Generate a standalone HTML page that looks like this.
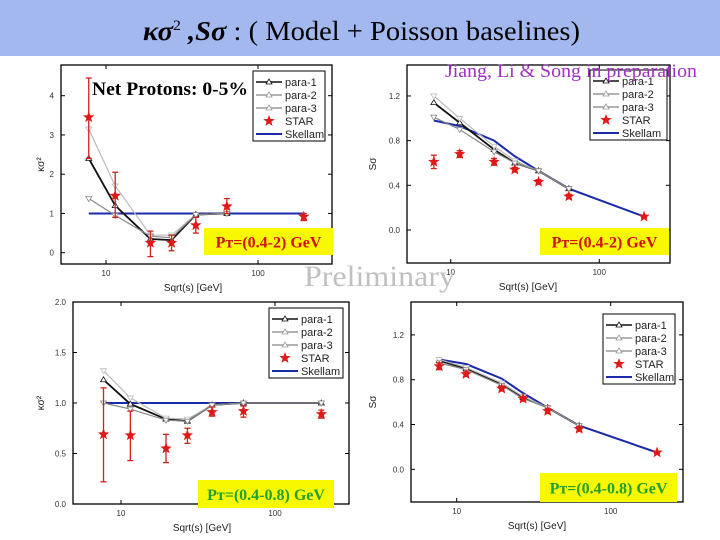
<!DOCTYPE html>
<html><head><meta charset="utf-8"><style>
body{margin:0;width:720px;height:540px;overflow:hidden;background:#fff;}
svg{display:block;}
</style></head><body>
<svg id="s" width="720" height="540" xmlns="http://www.w3.org/2000/svg" font-family="Liberation Sans, sans-serif">
<rect x="0" y="0" width="720" height="56" fill="#a4b8f0"/>
<text x="143" y="40" font-family="Liberation Serif, serif" font-size="27" fill="#000" textLength="437" lengthAdjust="spacingAndGlyphs"><tspan font-weight="bold" font-style="italic">κσ</tspan><tspan font-size="15" dy="-10">2</tspan><tspan dy="10" font-weight="bold" font-style="italic"> ,Sσ</tspan> :  ( Model + Poisson baselines)</text>
<g id="charts"></g>
<text x="304" y="286" font-family="Liberation Serif, serif" font-size="30" fill="#c0c0c0" textLength="151" lengthAdjust="spacingAndGlyphs">Preliminary</text>
<text x="445" y="77" font-family="Liberation Serif, serif" font-size="19" fill="#a030c0" textLength="252" lengthAdjust="spacingAndGlyphs">Jiang, Li &amp; Song in preparation</text>
<text x="92" y="95" font-family="Liberation Serif, serif" font-size="19" font-weight="bold" textLength="156" lengthAdjust="spacingAndGlyphs">Net Protons: 0-5%</text>
</svg>
<script>
const energies = [7.7, 11.5, 19.6, 27, 39, 62.4, 200];
// chart 1: kappa sigma^2, pT 0.4-2
const c1Star = [3.45, 1.45, 0.25, 0.25, 0.7, 1.18, 0.92];
const c1ErrHi = [4.45, 2.05, 0.55, 0.45, 0.9, 1.38, 1.0];
const c1ErrLo = [2.4, 0.9, -0.1, 0.05, 0.5, 1.0, 0.82];
const c1Para1 = [2.4, 1.2, 0.35, 0.32, 0.97, 1.0];
const c1Para2 = [3.15, 1.7, 0.45, 0.45, 0.97, 1.0];
const c1Para3 = [1.38, 0.95, 0.42, 0.38, 0.97, 1.0];
const c1Skellam = [1, 1, 1, 1, 1, 1, 1];
const c1YTicks = [0, 1, 2, 3, 4];
// chart 2: S sigma, pT 0.4-2
const c2Star = [0.61, 0.68, 0.61, 0.54, 0.43, 0.30, 0.12];
const c2ErrHi = [0.67, 0.71, 0.64, 0.56, 0.45, 0.32, 0.13];
const c2ErrLo = [0.55, 0.65, 0.58, 0.52, 0.41, 0.28, 0.11];
const c2Para1 = [1.14, 0.96, 0.72, 0.6, 0.53, 0.37];
const c2Para2 = [1.2, 1.0, 0.75, 0.62, 0.53, 0.37];
const c2Para3 = [1.01, 0.9, 0.7, 0.6, 0.53, 0.37];
const c2Skellam = [0.98, 0.93, 0.8, 0.66, 0.53, 0.37, 0.12];
const c2YTicks = [0.0, 0.4, 0.8, 1.2];
// chart 3: kappa sigma^2, pT 0.4-0.8
const c3Star = [0.69, 0.68, 0.55, 0.68, 0.91, 0.92, 0.89];
const c3ErrHi = [1.15, 0.92, 0.69, 0.75, 0.96, 0.97, 0.93];
const c3ErrLo = [0.22, 0.43, 0.41, 0.6, 0.87, 0.86, 0.85];
const c3Para1 = [1.23, 0.99, 0.84, 0.82, 0.98, 1.0, 1.0];
const c3Para2 = [1.32, 1.05, 0.85, 0.84, 0.98, 1.0, 1.0];
const c3Para3 = [1.0, 0.94, 0.83, 0.82, 0.98, 1.0, 1.0];
const c3Skellam = [1, 1, 1, 1, 1, 1, 1];
const c3YTicks = [0.0, 0.5, 1.0, 1.5, 2.0];
// chart 4: S sigma, pT 0.4-0.8
const c4Star = [0.92, 0.85, 0.72, 0.63, 0.52, 0.36, 0.15];
const c4ErrHi = [0.95, 0.87, 0.74, 0.65, 0.54, 0.38, 0.16];
const c4ErrLo = [0.89, 0.83, 0.70, 0.61, 0.50, 0.34, 0.14];
const c4Para1 = [0.97, 0.9, 0.76, 0.64, 0.55, 0.39];
const c4Para2 = [0.98, 0.91, 0.77, 0.65, 0.55, 0.39];
const c4Para3 = [0.95, 0.89, 0.75, 0.63, 0.55, 0.39];
const c4Skellam = [0.98, 0.94, 0.81, 0.68, 0.55, 0.39, 0.15];
const c4YTicks = [0.0, 0.4, 0.8, 1.2];
const xTicks = [10, 100];

const NS = 'http://www.w3.org/2000/svg';
const root = document.getElementById('charts');
function mk(tag, attrs, parent, txt){
  const e = document.createElementNS(NS, tag);
  for (const k in attrs) e.setAttribute(k, attrs[k]);
  if (txt !== undefined) e.textContent = txt;
  (parent || root).appendChild(e);
  return e;
}
function starPath(cx, cy, r){
  let d = '';
  for (let i = 0; i < 10; i++){
    const a = -Math.PI/2 + i*Math.PI/5;
    const rr = i % 2 ? r*0.42 : r;
    d += (i ? 'L' : 'M') + (cx + rr*Math.cos(a)).toFixed(1) + ',' + (cy + rr*Math.sin(a)).toFixed(1);
  }
  return d + 'Z';
}
function chart(cfg){
  const g = mk('g', {});
  
  
  const X = s => cfg.x10 + cfg.dec * Math.log10(s / 10);
  const Y = v => cfg.y0 - (v - cfg.yBase) * cfg.ppu;
  const f = mk('rect', {x: cfg.L, y: cfg.T, width: cfg.R - cfg.L, height: cfg.B - cfg.T, fill: 'none', stroke: '#000', 'stroke-width': 1.3}, g);
  
  
  cfg.yTicks.forEach(v => {
    const y = Y(v);
    mk('line', {x1: cfg.L, x2: cfg.L + 4, y1: y, y2: y, stroke: '#000'}, g);
    mk('line', {x1: cfg.R, x2: cfg.R - 4, y1: y, y2: y, stroke: '#000'}, g);
    const t = mk('text', {x: cfg.L - 7, y: y + 3, 'font-size': 8, 'text-anchor': 'end', fill: '#333'}, g, cfg.fmt(v));
    
    
  });
  xTicks.forEach(v => {
    const x = X(v);
    mk('line', {x1: x, x2: x, y1: cfg.B, y2: cfg.B - 4, stroke: '#000'}, g);
    mk('line', {x1: x, x2: x, y1: cfg.T, y2: cfg.T + 4, stroke: '#000'}, g);
    const t = mk('text', {x: x, y: cfg.B + 12, 'font-size': 8, 'text-anchor': 'middle', fill: '#333'}, g, String(v));
    
    
  });
  const xt = mk('text', {x: cfg.xtX, y: cfg.B + 27, 'font-size': 10, 'text-anchor': 'middle', fill: '#222'}, g, 'Sqrt(s) [GeV]');
  
  
  const yt = mk('text', {x: cfg.ytX, y: (cfg.T + cfg.B)/2, 'font-size': 10, 'text-anchor': 'middle', fill: '#222', transform: `rotate(-90 ${cfg.ytX} ${(cfg.T + cfg.B)/2})`}, g, cfg.yTitle);
  
  
  const sk = mk('polyline', {points: cfg.sk.map((v, i) => X(energies[i]) + ',' + Y(v)).join(' '), fill: 'none', stroke: '#1a2aa8', 'stroke-width': 2}, g);
  
  
  const paras = [[cfg.p1, '#111', 1.8, 'para-1-line', true], [cfg.p2, '#bbb', 1.2, 'para-2-line', false], [cfg.p3, '#888', 1.2, 'para-3-line', false]];
  paras.forEach(([arr, col, w, nm, up]) => {
    const pl = mk('polyline', {points: arr.map((v, i) => X(energies[i]) + ',' + Y(v)).join(' '), fill: 'none', stroke: col, 'stroke-width': w}, g);
    
    
    arr.forEach((v, i) => {
      const x = X(energies[i]), y = Y(v);
      const pts = up ? `${x},${y-3} ${x-3},${y+2} ${x+3},${y+2}` : `${x},${y+3} ${x-3},${y-2} ${x+3},${y-2}`;
      mk('polygon', {points: pts, fill: '#fff', stroke: col, 'stroke-width': 0.8}, g);
    });
  });
  cfg.star.forEach((v, i) => {
    const x = X(energies[i]);
    const eb = mk('g', {stroke: '#d02020', 'stroke-width': 1.3}, g);
    
    
    mk('line', {x1: x, x2: x, y1: Y(cfg.hi[i]), y2: Y(cfg.lo[i])}, eb);
    mk('line', {x1: x-3, x2: x+3, y1: Y(cfg.hi[i]), y2: Y(cfg.hi[i])}, eb);
    mk('line', {x1: x-3, x2: x+3, y1: Y(cfg.lo[i]), y2: Y(cfg.lo[i])}, eb);
    const st = mk('path', {d: starPath(x, Y(v), 6), fill: '#e01818'}, g);
    
    
  });
  const lg = mk('g', {}, g);
  
  
  const lx = cfg.leg[0], ly = cfg.leg[1];
  mk('rect', {x: lx, y: ly, width: cfg.leg[2], height: 70, fill: '#fff', stroke: '#000'}, lg);
  const items = [['para-1', '#111', 'tri'], ['para-2', '#999', 'tri'], ['para-3', '#999', 'tri'], ['STAR', '#e01818', 'star'], ['Skellam', '#1a2aa8', 'line']];
  items.forEach(([lab, col, kind], k) => {
    const y = ly + 11 + k * 13;
    const e = mk('g', {}, lg);
    
    
    if (kind === 'star') mk('path', {d: starPath(lx + 16, y, 6), fill: col}, e);
    else {
      mk('line', {x1: lx + 3, x2: lx + 29, y1: y, y2: y, stroke: col, 'stroke-width': kind === 'line' ? 2 : 1.5}, e);
      if (kind === 'tri') mk('polygon', {points: `${lx+16},${y-3} ${lx+13},${y+2} ${lx+19},${y+2}`, fill: '#fff', stroke: col, 'stroke-width': 0.8}, e);
    }
    mk('text', {x: lx + 32, y: y + 4, 'font-size': 11, fill: '#222'}, e, lab);
  });
  const pb = mk('g', {}, g);
  
  
  mk('rect', {x: cfg.pt[0], y: cfg.pt[1], width: cfg.pt[2], height: cfg.pt[3], fill: '#f8f800'}, pb);
  mk('text', {x: cfg.pt[0] + cfg.pt[2]/2, y: cfg.pt[1] + cfg.pt[3]/2 + 6, 'font-size': 16, 'font-weight': 'bold', 'font-family': 'Liberation Serif, serif', 'text-anchor': 'middle', fill: cfg.ptCol}, pb, cfg.ptText);
}
chart({name: 'kappa-sigma2-chart-pt-0.4-2', L: 61, R: 332, T: 65, B: 264, x10: 106, dec: 152, y0: 252.7, yBase: 0, ppu: 39.25,
  yTicks: c1YTicks, fmt: v => String(v), star: c1Star, hi: c1ErrHi, lo: c1ErrLo, p1: c1Para1, p2: c1Para2, p3: c1Para3, sk: c1Skellam,
  leg: [253, 71, 72], pt: [204, 228, 129, 27], ptCol: '#d01010', ptText: 'Pт=(0.4-2) GeV', xtX: 193, ytX: 44, yTitle: 'κσ²'});
chart({name: 'skewness-sigma-chart-pt-0.4-2', L: 407, R: 670, T: 65, B: 263, x10: 450.7, dec: 148.6, y0: 230, yBase: 0, ppu: 111.7,
  yTicks: c2YTicks, fmt: v => v.toFixed(1), star: c2Star, hi: c2ErrHi, lo: c2ErrLo, p1: c2Para1, p2: c2Para2, p3: c2Para3, sk: c2Skellam,
  leg: [590, 70, 77], pt: [540, 228, 129, 27], ptCol: '#d01010', ptText: 'Pт=(0.4-2) GeV', xtX: 528, ytX: 376, yTitle: 'Sσ'});
chart({name: 'kappa-sigma2-chart-pt-0.4-0.8', L: 73, R: 349, T: 302, B: 504, x10: 121, dec: 154, y0: 504, yBase: 0, ppu: 101,
  yTicks: c3YTicks, fmt: v => v.toFixed(1), star: c3Star, hi: c3ErrHi, lo: c3ErrLo, p1: c3Para1, p2: c3Para2, p3: c3Para3, sk: c3Skellam,
  leg: [269, 308, 74], pt: [198, 480, 136, 28], ptCol: '#22a030', ptText: 'Pт=(0.4-0.8) GeV', xtX: 202, ytX: 44, yTitle: 'κσ²'});
chart({name: 'skewness-sigma-chart-pt-0.4-0.8', L: 411, R: 683, T: 302, B: 502, x10: 456.7, dec: 154, y0: 469.3, yBase: 0, ppu: 112,
  yTicks: c4YTicks, fmt: v => v.toFixed(1), star: c4Star, hi: c4ErrHi, lo: c4ErrLo, p1: c4Para1, p2: c4Para2, p3: c4Para3, sk: c4Skellam,
  leg: [603, 314, 72], pt: [540, 473, 137, 29], ptCol: '#22a030', ptText: 'Pт=(0.4-0.8) GeV', xtX: 537, ytX: 376, yTitle: 'Sσ'});
</script>
</body></html>
